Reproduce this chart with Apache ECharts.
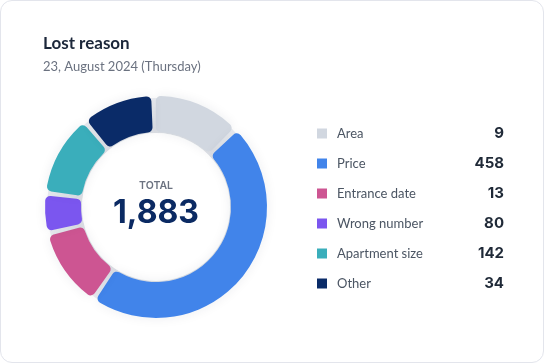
<!DOCTYPE html>
<html>
<head>
<meta charset="utf-8">
<script src="https://cdn.jsdelivr.net/npm/echarts@6/dist/echarts.min.js"></script>
<style>
  html, body { margin: 0; padding: 0; background: #ffffff; }
  #card { position: absolute; left: 0; top: 0; width: 542px; height: 361px; border: 1px solid #e3e5ec; border-radius: 12px; background: #fff; overflow: hidden; }
  #chart { width: 542px; height: 361px; }
</style>
</head>
<body>
<div id="card"><div id="chart"></div></div>
<script>
// ---- data ----
const categories = ['Area', 'Price', 'Entrance date', 'Wrong number', 'Apartment size', 'Other'];
const legendCounts = [9, 458, 13, 80, 142, 34];           // numbers shown in the legend
const sliceShares = [47, 168.5, 42, 21, 43, 38.5];        // slice sizes as drawn (degrees)
const totalLabel = '1,883';
const colors = ['#d1d7e0', '#4184ea', '#cd5592', '#7b56ef', '#3aaebb', '#0a2b68'];

const chart = echarts.init(document.getElementById('chart'), null, { renderer: 'canvas' });
const FONT = 'Lato, "Noto Sans", sans-serif';
const NUMFONT = 'Inter, Lato, sans-serif';

chart.setOption({
  animation: false,
  color: colors,
  title: [
    { text: 'Lost reason', left: 42, top: 34, padding: 0,
      textStyle: { fontFamily: FONT, fontSize: 17, fontWeight: 'bold', color: '#1c273a' } },
    { text: '23, August 2024 (Thursday)', left: 42, top: 59, padding: 0,
      textStyle: { fontFamily: FONT, fontSize: 13, fontWeight: 'normal', color: '#6b7280' } }
  ],
  legend: {
    orient: 'vertical',
    left: 311, top: 120,
    itemWidth: 10, itemHeight: 10, itemGap: 15,
    icon: 'rect',
    selectedMode: false,
    data: categories,
    formatter: function (name) {
      const i = categories.indexOf(name);
      return '{n|' + name + '}{v|' + legendCounts[i] + '}';
    },
    textStyle: {
      rich: {
        n: { fontFamily: FONT, fontSize: 13, color: '#4b5563', width: 115, padding: [0, 0, 0, 5] },
        v: { fontFamily: NUMFONT, fontSize: 15, fontWeight: 'bold', color: '#1f2937', width: 52, align: 'right' }
      }
    }
  },
  graphic: [
    { type: 'text', x: 155, y: 185, z: 10,
      style: { text: 'TOTAL', fill: '#6b7280', font: '600 10.5px ' + NUMFONT, textAlign: 'center', textVerticalAlign: 'middle' } },
    { type: 'text', x: 155, y: 212, z: 10,
      style: { text: totalLabel, fill: '#0b2a63', font: 'bold 32px ' + NUMFONT, textAlign: 'center', textVerticalAlign: 'middle' } }
  ],
  series: [
    {
      type: 'pie', silent: true, z: 1,
      center: [155, 206], radius: [74, 109],
      label: { show: false }, labelLine: { show: false },
      itemStyle: { color: '#eceef2' },
      data: [{ value: 1, name: '_ring' }],
      legendHoverLink: false
    },
    {
      type: 'pie', silent: true, z: 1,
      center: [155, 206], radius: [0, 74],
      label: { show: false }, labelLine: { show: false },
      itemStyle: { color: '#ffffff', shadowBlur: 30, shadowColor: 'rgba(30,40,70,0.14)' },
      data: [{ value: 1, name: '_bg' }],
      legendHoverLink: false
    },
    {
      type: 'pie', z: 2,
      center: [155, 206], radius: [75, 111],
      startAngle: 91.3, clockwise: true,
      padAngle: 2.4,
      label: { show: false }, labelLine: { show: false },
      itemStyle: { borderRadius: 5, shadowBlur: 12, shadowColor: 'rgba(30,40,70,0.08)' },
      data: categories.map((c, i) => ({ name: c, value: sliceShares[i] }))
    }
  ]
});
</script>
</body>
</html>
